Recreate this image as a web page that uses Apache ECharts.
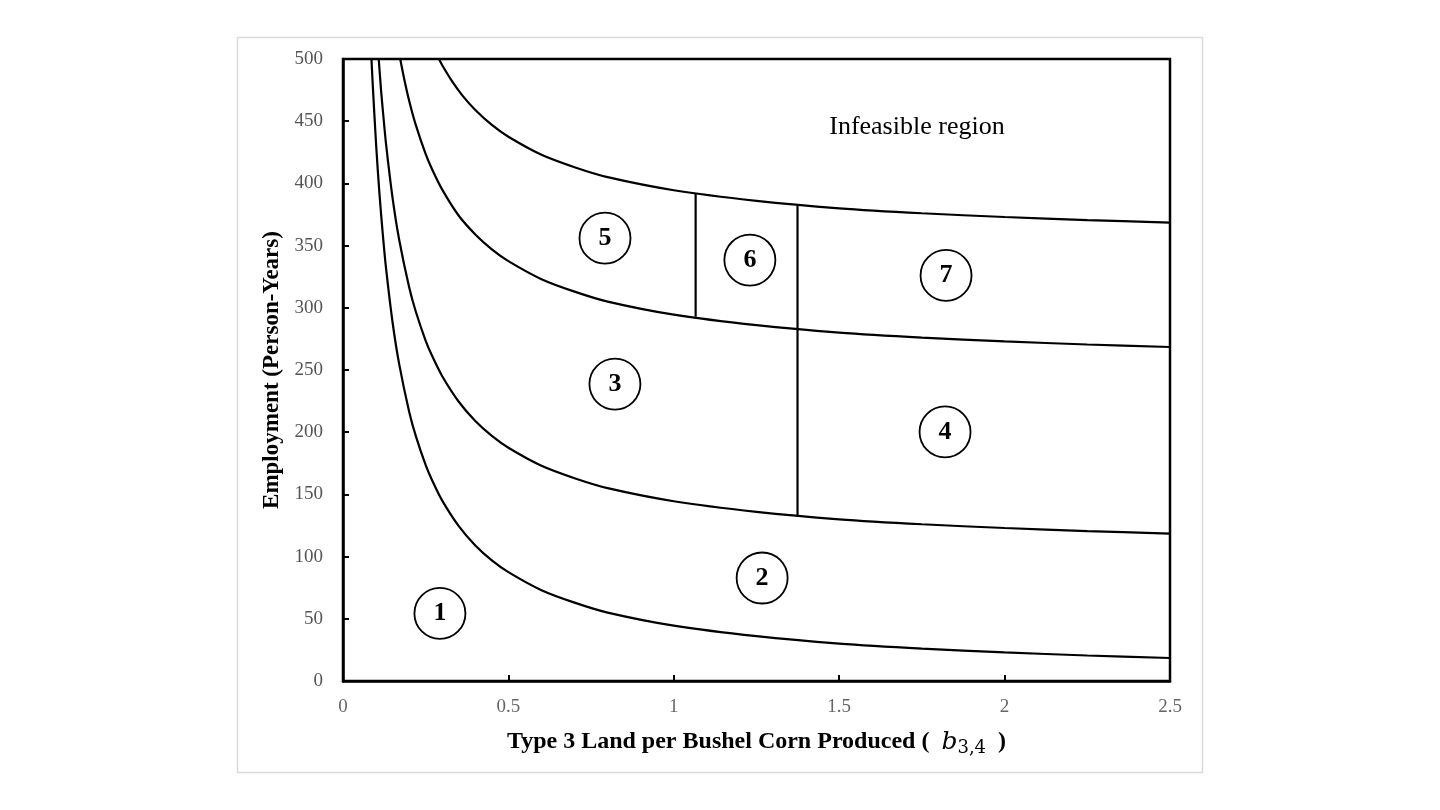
<!DOCTYPE html>
<html>
<head>
<meta charset="utf-8">
<script src="https://cdn.jsdelivr.net/npm/echarts@6/dist/echarts.min.js"></script>
<style>html,body{margin:0;padding:0;background:#fff;}#c{width:1440px;height:810px;}</style>
</head>
<body>
<div id="c"></div>
<script>
// Curve readings [x, employment]
const curve1 = [[0.086,500],[0.09,479],[0.1,431.5],[0.11,392.5],[0.12,360],[0.13,332],[0.15,288],[0.17,254.5],[0.2,216.5],[0.22,197],[0.25,173.5],[0.27,161],[0.3,145],[0.35,124.5],[0.4,109],[0.45,97],[0.5,87.5],[0.6,73],[0.7,63],[0.8,55],[1.0,44.5],[1.25,36],[1.5,30],[1.75,26],[2.0,23],[2.25,20.5],[2.5,18.5]];
const curve2 = [[0.108,500],[0.115,475],[0.12,460],[0.13,432],[0.15,388],[0.17,354.5],[0.2,316.5],[0.22,297],[0.25,273.5],[0.27,261],[0.3,245],[0.35,224.5],[0.4,209],[0.45,197],[0.5,187.5],[0.6,173],[0.7,163],[0.8,155],[1.0,144.5],[1.25,136],[1.5,130],[1.75,126],[2.0,123],[2.25,120.5],[2.5,118.5]];
const curve3 = [[0.173,500],[0.185,484],[0.2,466.5],[0.22,447],[0.25,423.5],[0.27,411],[0.3,395],[0.35,374],[0.4,359],[0.45,347],[0.5,337.5],[0.6,323],[0.7,313],[0.8,305],[1.0,294.5],[1.25,286],[1.5,280],[1.75,276],[2.0,273],[2.25,270.5],[2.5,268.5]];
const curve4 = [[0.29,500],[0.3,495],[0.33,482],[0.36,471],[0.4,459],[0.45,447],[0.5,437.5],[0.6,423],[0.7,413],[0.8,405],[1.0,394.5],[1.25,386],[1.5,380],[1.75,376],[2.0,373],[2.25,370.5],[2.5,368.5]];
const divider1 = [[1.066,292.8],[1.066,392]];
const divider2 = [[1.374,132.6],[1.374,382.6]];
const regionLabels = [[0.293,54.3,'1'],[1.267,82.8,'2'],[0.822,238.7,'3'],[1.82,200.2,'4'],[0.792,356,'5'],[1.23,338.4,'6'],[1.823,326,'7']];
const noteText = [[1.735,445,'Infeasible region']];
const xTicks = [0, 0.5, 1, 1.5, 2, 2.5];
const yTicks = [0, 50, 100, 150, 200, 250, 300, 350, 400, 450, 500];

const serif = '"Liberation Serif", "Times New Roman", serif';
const lineStyle = {color:'#000', width:2.2};
function curveSeries(d){
  return {type:'line', data:d, smooth:0.3, showSymbol:false, lineStyle:lineStyle, z:3, silent:true};
}
const chart = echarts.init(document.getElementById('c'), null, {renderer:'canvas'});
chart.setOption({
  backgroundColor:'#fff',
  animation:false,
  graphic:[{type:'rect', shape:{x:237.5,y:37.5,width:965,height:735}, style:{fill:'none', stroke:'#d9d9d9', lineWidth:1.5}, z:0}],
  grid:{left:343, right:270, top:59, bottom:129, show:true, borderColor:'#000', borderWidth:2.5, backgroundColor:'transparent'},
  xAxis:{type:'value', min:0, max:2.5, interval:0.5,
    axisLine:{show:true, lineStyle:{color:'#000', width:2.5}},
    axisTick:{show:true, inside:true, length:6, lineStyle:{color:'#000', width:2}},
    splitLine:{show:false},
    axisLabel:{color:'#666', fontFamily:serif, fontSize:19, margin:17, formatter:v=>xTicks.indexOf(v)>=0?String(v):''},
    name:'{t|Type 3 Land per Bushel Corn Produced (  }{b|b}{s|3,4}{t|  )}',
    nameLocation:'middle', nameGap:46,
    nameTextStyle:{rich:{
      t:{fontFamily:serif, fontWeight:'bold', fontSize:24, color:'#000'},
      b:{fontFamily:'"DejaVu Serif", serif', fontStyle:'italic', fontSize:25, color:'#000'},
      s:{fontFamily:'"DejaVu Serif", serif', fontSize:18, color:'#000', padding:[12,0,0,0]}
    }}
  },
  yAxis:{type:'value', min:0, max:500, interval:50,
    axisLine:{show:true, lineStyle:{color:'#000', width:2.5}},
    axisTick:{show:true, inside:true, length:6, lineStyle:{color:'#000', width:2}},
    splitLine:{show:false},
    axisLabel:{color:'#555', fontFamily:serif, fontSize:19, margin:20, formatter:v=>yTicks.indexOf(v)>=0?String(v):''},
    name:'Employment (Person-Years)', nameLocation:'middle', nameGap:50,
    nameTextStyle:{fontFamily:serif, fontWeight:'bold', fontSize:23, color:'#000'}
  },
  series:[
    curveSeries(curve1), curveSeries(curve2), curveSeries(curve3), curveSeries(curve4),
    {type:'line', data:divider1, showSymbol:false, lineStyle:lineStyle, z:3, silent:true},
    {type:'line', data:divider2, showSymbol:false, lineStyle:lineStyle, z:3, silent:true},
    {type:'scatter', data:regionLabels, symbol:'circle', symbolSize:51, z:5, silent:true,
      itemStyle:{color:'#fff', borderColor:'#000', borderWidth:1.8, opacity:1},
      label:{show:true, position:'inside', formatter:p=>p.data[2], fontFamily:serif, fontWeight:'bold', fontSize:26, color:'#000'}},
    {type:'scatter', data:noteText, symbolSize:0, silent:true, itemStyle:{opacity:1},
      label:{show:true, position:'inside', formatter:p=>p.data[2], fontFamily:serif, fontSize:26, color:'#000'}}
  ]
});
</script>
</body>
</html>
